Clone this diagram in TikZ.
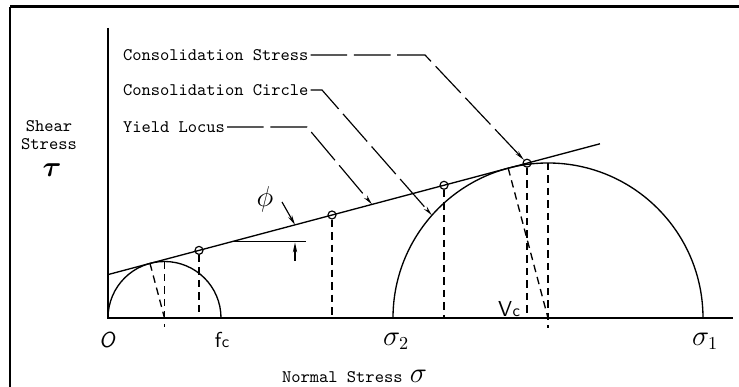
\documentclass[tikz,border=0pt]{standalone}
\usepackage{amsmath}
\usepackage{fontspec}
\usepackage{tikz}
\usetikzlibrary{arrows.meta, positioning, calc}
\tikzset{
  axis/.style={line width=1pt, draw=black},
  curve/.style={line width=0.8pt, draw=black},
  drop/.style={line width=0.8pt, dash pattern=on 4.5pt off 3pt},
  leader/.style={line width=0.7pt, dash pattern=on 22pt off 4pt, -{Stealth[length=6pt, width=2.4pt]}},
  ptmark/.style={circle, draw, line width=0.7pt, inner sep=0pt, minimum size=4.8pt},
  lbl/.style={font=\ttfamily\fontsize{10.6}{11.2}\selectfont, inner sep=1pt},
  hand/.style={font=\fontsize{16}{17}\selectfont, inner sep=0pt},
  bighand/.style={font=\fontsize{19}{19}\selectfont, inner sep=0pt},
  hsans/.style={font=\sffamily\fontsize{13}{14}\selectfont, inner sep=0pt},
  hslant/.style={font=\sffamily\itshape\fontsize{13}{14}\selectfont, inner sep=0pt},
  arr/.style={line width=0.7pt, -{Stealth[length=6pt, width=2.6pt]}},
}

\begin{document}
\begin{tikzpicture}[x=0.6pt, y=0.6pt]
  \useasboundingbox (0,0) rectangle (739,387);
  % frame
  \draw[line width=1pt] (10,0) -- (10,380);
  \draw[line width=1.8pt] (10,380) -- (739,380);

  % axes
  \coordinate (O) at (108,69);
  \coordinate (ytop) at (108,359);
  \coordinate (xend) at (733,69);
  \draw[axis] (ytop) -- (O) -- (xend);

  % Mohr circles
  \coordinate (c1) at (164.5,69);
  \coordinate (c2) at (548,69);
  \draw[curve] (108,69) arc (180:0:56.5);
  \draw[curve] (393,69) arc (180:0:155);

  % yield locus
  \coordinate (yl0) at (108,112.4);
  \coordinate (yl1) at (600,243.2);
  \draw[curve] (yl0) -- (yl1);
  \node[ptmark] (p1) at (199,136.6) {};
  \node[ptmark] (p2) at (332,172.0) {};
  \node[ptmark] (p3) at (444,201.7) {};
  \node[ptmark] (p4) at (527,223.8) {};

  % dashed construction lines
  \draw[drop] (p1) -- (p1 |- O);
  \draw[drop] (p2) -- (p2 |- O);
  \draw[drop] (p3) -- (p3 |- O);
  \draw[drop] (p4) -- (p4 |- O);
  \coordinate (t1) at ($(c1)+(0,56.5)$);
  \coordinate (b1) at ($(c1)+(0,-9)$);
  \coordinate (t2) at ($(c2)+(0,155)$);
  \coordinate (b2) at ($(c2)+(0,-10)$);
  \draw[drop] (t1) -- (b1);
  \draw[drop] (t2) -- (b2);
  \coordinate (tg1) at ($(c1)+(104.88:56.5)$);
  \coordinate (tg2) at ($(c2)+(104.88:155)$);
  \draw[drop] (tg1) -- (c1);
  \draw[drop] (tg2) -- (c2);

  % angle phi
  \coordinate (h0) at (233,145.7);
  \coordinate (h1) at (306,145.7);
  \draw[curve] (h0) -- (h1);
  \node[hand] (phi) at (265,188) {$\phi$};
  \coordinate (phitail) at (282,185);
  \coordinate (phitip) at (295,162.1);
  \draw[arr] (phitail) -- (phitip);
  \coordinate (ftail) at (295,126);
  \coordinate (ftip) at (295,144.5);
  \draw[arr] (ftail) -- (ftip);

  % labels and leaders
  \node[lbl, anchor=west] (cs) at (121,332) {Consolidation Stress};
  \node[lbl, anchor=west] (cc) at (121,297) {Consolidation Circle};
  \node[lbl, anchor=west] (yl) at (121,260) {Yield Locus};
  \coordinate (cs1) at (425,332);
  \coordinate (cc1) at (322,297);
  \coordinate (yl2) at (307,260);
  \coordinate (cctip) at ($(c2)+(138.5:155)$);
  \coordinate (yltip) at (372,182.6);
  \draw[leader] (cs.east) -- (cs1) -- (p4);
  \draw[leader] (cc.east) -- (cc1) -- (cctip);
  \draw[leader] (yl.east) -- (yl2) -- (yltip);

  \node[lbl, align=center] (shear) at (49,252) {Shear\\Stress};
  \node[bighand] (tau) at (52,217) {$\boldsymbol{\tau}$};

  % axis labels
  \node[hslant] (lo) at (107,47) {O};
  \node[hsans] (lfc) at (222,47) {f\kern0.3pt{\fontsize{10}{10}\selectfont c}};
  \node[hand] (ls2) at (396,46) {$\sigma_2$};
  \node[hand] (ls1) at (705,46) {$\sigma_1$};
  \node[hsans, anchor=south] (lvc) at (509,70) {V\kern0.3pt{\fontsize{10}{10}\selectfont c}};
  \node[lbl, anchor=west] (ns) at (280,10) {Normal Stress};
  \node[hand, right=3pt of ns.base east, anchor=base west] (lsig) {$\sigma$};
\end{tikzpicture}
\end{document}
